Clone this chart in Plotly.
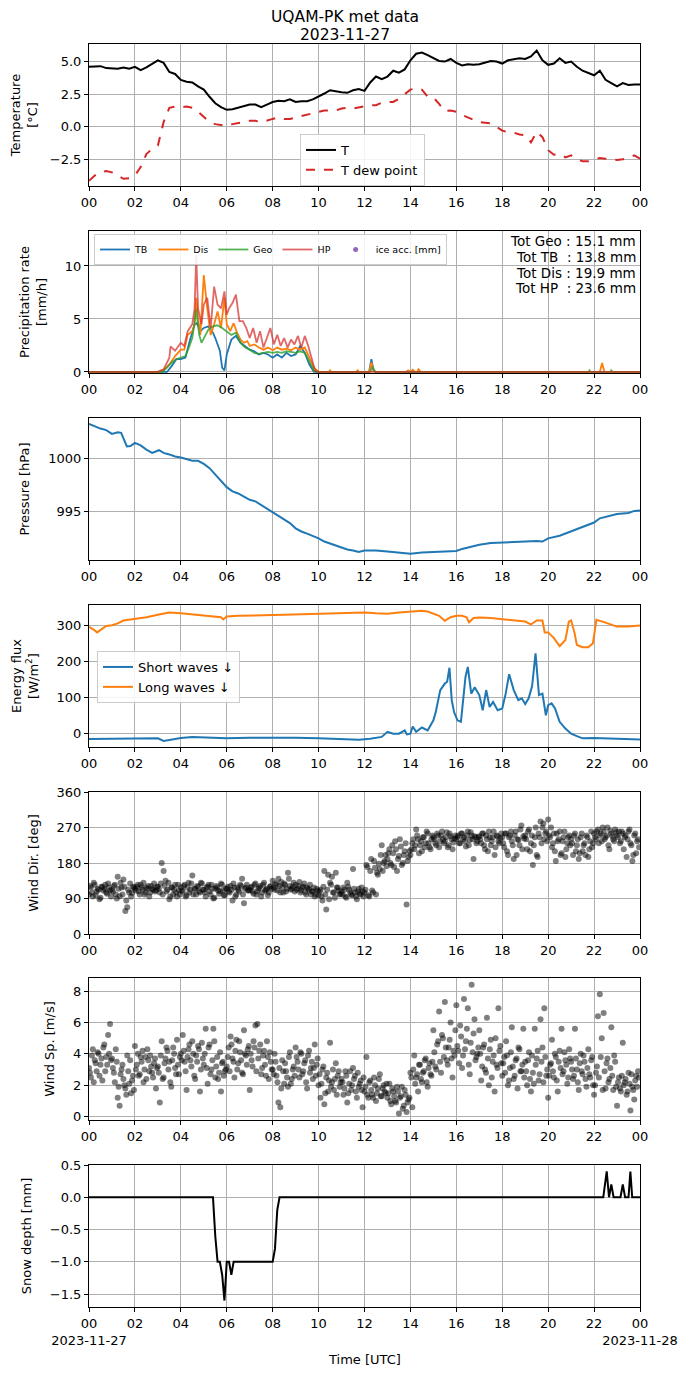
import plotly.graph_objects as go
from plotly.subplots import make_subplots

# ---------------- data : hours UTC, 2023-11-27 ----------------
# temperature / dew point, one value every 15 min (00:00 -> 24:00)
TEMP = [
    4.6, 4.65, 4.65, 4.5,   4.5, 4.45, 4.55, 4.45,   4.6, 4.35, 4.55, 4.8,
    5.1, 4.9, 4.2, 4.05,    3.6, 3.45, 3.4, 3.1,     2.85, 2.3, 1.8, 1.5,
    1.3, 1.35, 1.45, 1.55,  1.7, 1.7, 1.5, 1.7,      1.9, 2.0, 1.95, 2.1,
    1.9, 1.95, 1.95, 2.1,   2.3, 2.55, 2.8, 2.7,     2.65, 2.6, 2.8, 2.9,
    2.75, 3.4, 3.85, 3.65,  3.85, 4.3, 4.15, 4.4,    5.1, 5.6, 5.7, 5.5,
    5.25, 5.05, 5.0, 5.2,   4.9, 4.7, 4.8, 4.75,     4.8, 4.9, 5.05, 5.0,
    4.85, 5.1, 5.15, 5.25,  5.2, 5.4, 5.85, 5.1,     4.75, 4.85, 5.25, 4.9,
    5.0, 4.6, 4.3, 4.1,     3.95, 4.3, 3.6, 3.35,    3.1, 3.35, 3.2, 3.25,
    3.25,
]
DEW = [
    -4.15, -3.75, -3.5, -3.4,  -3.5, -3.75, -4.0, -3.95,  -3.75, -3.1, -2.1, -1.7,
    -1.45, 0.35, 1.45, 1.55,   1.5, 1.55, 1.45, 1.15,     0.75, 0.35, 0.2, 0.1,
    0.05, 0.2, 0.25, 0.35,     0.45, 0.45, 0.35, 0.5,     0.6, 0.7, 0.6, 0.6,
    0.7, 0.8, 0.9, 1.0,        1.15, 1.25, 1.25, 1.25,    1.4, 1.45, 1.4, 1.5,
    1.55, 1.65, 1.65, 1.85,    1.9, 1.9, 2.15, 2.5,       2.85, 2.95, 2.85, 2.3,
    2.25, 1.75, 1.2, 1.25,     1.15, 0.9, 0.7, 0.55,      0.35, 0.3, 0.25, 0.0,
    -0.3, -0.4, -0.45, -0.6,   -0.65, -1.2, -0.4, -0.8,   -1.8, -2.15, -2.1, -2.35,
    -2.2, -2.5, -2.65, -2.65,  -2.55, -2.4, -2.45, -2.5,  -2.55, -2.5, -2.4, -2.2,
    -2.45,
]
T_HOURS = [i * 0.25 for i in range(len(TEMP))]

# precipitation rate [mm/h]
TB_H = [0, 3.4, 3.6, 3.8, 4.0, 4.2, 4.4, 4.6, 4.7, 4.85, 5.0, 5.2, 5.4, 5.5, 5.7, 5.8, 5.9,
        6.0, 6.2, 6.4, 6.6, 6.8, 7.0, 7.2, 7.4, 7.6, 7.8, 8.0, 8.2, 8.4, 8.6, 8.8,
        9.0, 9.2, 9.4, 9.6, 9.8, 12.2, 12.3, 12.4, 12.5, 24]
TB = [0, 0, 0.55, 1.2, 1.2, 1.35, 3.05, 4.45, 4.6, 3.85, 4.15, 4.3, 3.7, 3.2, 2.0, 0.4, 0.15,
      1.65, 3.05, 3.4, 2.75, 2.45, 2.1, 1.95, 1.65, 1.8, 1.65, 1.35, 1.65, 1.35, 1.8, 1.5,
      1.65, 2.45, 1.8, 0.7, 0, 0, 1.2, 0.1, 0, 0]
DIS_H = [0, 3.0, 3.25, 3.5, 3.75, 4.0, 4.15, 4.3, 4.5, 4.6, 4.67, 4.75, 4.85,
         5.0, 5.15, 5.3, 5.45, 5.6, 5.75, 5.9, 6.0, 6.15, 6.3, 6.45, 6.6, 6.75, 6.9,
         7.0, 7.2, 7.4, 7.6, 7.8, 8.0, 8.2, 8.4, 8.6, 8.8, 9.0, 9.2, 9.4, 9.6, 9.8,
         10.0, 10.45, 10.5, 10.55, 11.65, 11.7, 11.75, 12.2, 12.3, 12.4, 12.5,
         13.8, 13.9, 14.0, 14.1, 14.2, 14.3, 14.35, 14.45, 14.6,
         22.25, 22.35, 22.45, 24]
DIS = [0, 0, 0.2, 0.7, 1.5, 2.1, 2.1, 3.5, 3.85, 4.5, 7.0, 5.1, 3.5,
       9.15, 6.0, 3.5, 4.5, 5.7, 4.15, 7.0, 4.5, 3.85, 4.6, 3.7, 3.05, 2.75, 2.9,
       2.45, 2.6, 2.3, 2.1, 2.3, 2.05, 2.3, 2.1, 2.2, 2.05, 2.3, 2.1, 2.3, 1.35, 0.4,
       0, 0, 0.15, 0, 0, 0.2, 0, 0, 0.9, 0.1, 0,
       0, 0.15, 0, 0.2, 0, 0, 0.25, 0, 0,
       0, 0.85, 0, 0]
GEO_H = [0, 3.2, 3.4, 3.6, 3.8, 4.0, 4.2, 4.35, 4.5, 4.67, 4.8, 4.9,
         5.0, 5.2, 5.4, 5.6, 5.8, 6.0, 6.2, 6.4, 6.6, 6.8, 7.0, 7.2, 7.4, 7.6, 7.8,
         8.0, 8.2, 8.4, 8.6, 8.8, 9.0, 9.2, 9.4, 9.6, 9.8, 10.0,
         12.25, 12.35, 12.45, 21.75, 21.8, 21.85, 22.7, 22.75, 22.8, 24]
GEO = [0, 0, 0.4, 0.9, 1.2, 1.35, 1.5, 2.3, 3.2, 5.9, 3.5, 2.75,
       3.2, 4.0, 4.3, 4.4, 4.15, 3.85, 3.5, 3.7, 2.75, 2.3, 2.1, 1.8, 1.7, 1.8, 1.9,
       1.8, 1.9, 1.8, 1.95, 1.9, 1.8, 1.95, 1.8, 1.0, 0.1, 0,
       0, 0.5, 0, 0, 0.15, 0, 0, 0.15, 0, 0]
HP_H = [0, 3.0, 3.25, 3.5, 3.55, 3.75, 4.0, 4.15, 4.3, 4.5, 4.6, 4.67, 4.75, 4.9,
        5.0, 5.15, 5.3, 5.45, 5.6, 5.75, 5.9, 6.0, 6.1, 6.25, 6.4, 6.55, 6.7, 6.85,
        7.0, 7.15, 7.3, 7.45, 7.6, 7.75, 7.9, 8.05, 8.2, 8.35, 8.5, 8.65, 8.8, 8.95,
        9.1, 9.25, 9.4, 9.55, 9.7, 9.85, 10.0, 24]
HP = [0, 0, 0.25, 1.35, 2.4, 2.0, 2.75, 2.45, 3.85, 4.5, 6.0, 11.0, 6.0, 4.5,
      6.35, 7.0, 4.15, 8.05, 6.35, 6.0, 7.6, 5.4, 6.0, 6.5, 7.3, 4.8, 4.8, 4.15,
      3.2, 4.15, 2.75, 3.85, 2.3, 3.2, 4.15, 2.6, 3.5, 2.45, 3.2, 2.3, 3.05, 2.6,
      3.4, 2.3, 3.4, 2.45, 1.2, 0.1, 0, 0]
TOTALS = ["Tot Geo : 15.1 mm", "Tot TB\u00a0\u00a0: 13.8 mm",
          "Tot Dis : 19.9 mm", "Tot HP\u00a0\u00a0: 23.6 mm"]

# pressure [hPa]
P_H = [0, 0.25, 0.5, 0.75, 1.0, 1.25, 1.4, 1.65, 1.8, 2.0, 2.25, 2.5, 2.75,
       3.05, 3.25, 3.5, 3.75, 4.0, 4.25, 4.5, 4.75, 5.0, 5.25, 5.5, 5.75,
       6.0, 6.25, 6.5, 6.75, 7.0, 7.25, 7.5, 7.75, 8.0, 8.25, 8.5, 8.75,
       9.0, 9.25, 9.5, 9.75, 10.0, 10.25, 10.5, 10.75, 11.0, 11.25, 11.5, 11.75,
       12.0, 12.5, 13.0, 13.5, 14.0, 14.5, 15.0, 15.5, 16.0, 16.25, 16.5,
       17.0, 17.5, 18.0, 18.5, 19.0, 19.5, 19.75, 20.0, 20.5, 21.0, 21.5,
       22.0, 22.25, 22.5, 23.0, 23.5, 23.75, 24.0]
PRES = [1003.3, 1003.05, 1002.85, 1002.7, 1002.35, 1002.5, 1002.45, 1001.15, 1001.2,
        1001.5, 1001.25, 1000.85, 1000.55, 1000.8, 1000.55, 1000.4, 1000.2,
        1000.1, 999.95, 999.8, 999.8, 999.5, 999.1, 998.5, 997.85,
        997.3, 996.9, 996.7, 996.4, 996.1, 995.95, 995.6, 995.3,
        994.95, 994.55, 994.2, 993.9, 993.4, 993.1, 992.9, 992.7,
        992.45, 992.15, 991.95, 991.75, 991.6, 991.4, 991.3, 991.15,
        991.3, 991.3, 991.2, 991.1, 991.0, 991.1, 991.15, 991.2, 991.25, 991.45, 991.6,
        991.85, 992.0, 992.05, 992.15, 992.2, 992.2, 992.15, 992.45, 992.7, 993.1, 993.5,
        993.95, 994.35, 994.5, 994.75, 994.85, 995.05, 995.1]

# radiation [W/m2]
LW_H = [0, 0.2, 0.35, 0.55, 0.75, 1.0, 1.25, 1.5, 2.0, 2.5, 3.0, 3.5, 4.0, 4.5,
        5.0, 5.5, 5.75, 5.85, 6.0, 6.5, 7.0, 7.5, 8.0, 8.5, 9.0, 9.5, 10.0, 10.5,
        11.0, 11.5, 12.0, 12.5, 13.0, 13.5, 14.0, 14.5, 14.75, 15.0, 15.25, 15.5, 15.75,
        16.0, 16.25, 16.45, 16.55, 16.75, 17.0, 17.5, 18.0, 18.5, 19.0, 19.25, 19.5,
        19.75, 19.85, 20.0, 20.25, 20.5, 20.75, 20.9, 21.0, 21.15, 21.25, 21.5, 21.75,
        21.95, 22.1, 22.5, 23.0, 23.5, 24.0]
LW = [295, 288, 280, 288, 298, 300, 305, 313, 317, 322, 329, 335, 333, 330,
      327, 324, 322, 316, 324, 326, 326, 326, 328, 329, 330, 331, 333, 333,
      335, 335, 335, 333, 332, 335, 338, 340, 338, 333, 326, 312, 322,
      326, 326, 322, 308, 320, 321, 320, 317, 315, 310, 302, 313,
      313, 280, 280, 264, 242, 259, 310, 313, 278, 245, 239, 239,
      250, 315, 307, 296, 296, 299]
SW_H = [0, 1, 2, 3, 3.25, 3.5, 4, 4.5, 5, 6, 7, 8, 9, 10, 11, 11.75,
        12.25, 12.75, 13.0, 13.25, 13.5, 13.75, 13.85, 14.0, 14.1, 14.25, 14.5, 14.75,
        15.0, 15.1, 15.3, 15.5, 15.6, 15.7, 15.8, 15.9, 16.05, 16.2, 16.4, 16.5, 16.65, 16.8,
        17.0, 17.15, 17.3, 17.45, 17.6, 17.8, 18.0, 18.15, 18.3, 18.5, 18.7, 18.85,
        19.0, 19.15, 19.3, 19.45, 19.6, 19.75, 19.9, 20.0, 20.15, 20.3, 20.4, 20.5, 20.75,
        21.0, 21.25, 21.5, 22, 23, 24]
SW = [-16, -16, -15, -14, -21, -18, -13, -10, -12, -14, -12, -11, -12, -14, -16, -18,
      -15, -10, 4, -1, -1, 8, -3, -1, 19, 4, 16, 8,
      36, 58, 120, 138, 143, 182, 92, 59, 36, 32, 157, 184, 110, 128,
      106, 64, 120, 73, 87, 64, 69, 110, 164, 120, 92, 97,
      81, 97, 131, 222, 106, 110, 50, 78, 83, 69, 50, 32, 13,
      -1, -8, -14, -13, -16, -17]

# wind, one row per hour; A = samples on the 5-min marks, B = samples in between
WDIR_A = [
    [100, 118, 95, 125, 108, 112, 92, 120, 115, 105, 128, 110],
    [112, 122, 100, 145, 96, 118, 138, 58, 68, 105, 95, 120],
    [115, 120, 108, 125, 112, 100, 118, 122, 105, 115, 128, 110],
    [120, 105, 180, 160, 135, 112, 88, 118, 100, 125, 95, 110],
    [118, 108, 125, 98, 130, 112, 148, 115, 100, 120, 105, 128],
    [112, 95, 120, 108, 125, 90, 115, 118, 102, 128, 110, 98],
    [115, 108, 122, 85, 118, 100, 112, 125, 140, 78, 118, 110],
    [112, 120, 102, 128, 108, 118, 95, 125, 110, 115, 105, 122],
    [135, 112, 125, 140, 105, 118, 128, 108, 155, 122, 115, 130],
    [125, 115, 132, 110, 120, 105, 118, 112, 100, 108, 95, 115],
    [98, 112, 85, 160, 62, 150, 130, 145, 105, 155, 118, 100],
    [108, 118, 95, 130, 112, 100, 165, 105, 88, 115, 100, 108],
    [105, 175, 98, 160, 110, 185, 100, 150, 165, 225, 180, 200],
    [190, 215, 175, 205, 235, 160, 198, 222, 180, 210, 75, 195],
    [200, 230, 215, 265, 240, 225, 210, 245, 230, 255, 220, 240],
    [245, 230, 255, 220, 250, 240, 235, 258, 225, 248, 215, 242],
    [240, 250, 230, 255, 245, 222, 260, 238, 250, 190, 245, 235],
    [248, 230, 255, 215, 240, 260, 225, 245, 200, 250, 235, 242],
    [245, 220, 255, 200, 250, 235, 190, 260, 240, 225, 275, 248],
    [250, 215, 265, 230, 175, 245, 200, 255, 285, 270, 240, 260],
    [290, 245, 220, 255, 185, 235, 260, 205, 245, 195, 230, 250],
    [240, 200, 255, 225, 190, 245, 210, 230, 250, 195, 235, 220],
    [255, 240, 265, 250, 235, 260, 245, 270, 215, 255, 240, 265],
    [250, 260, 235, 255, 245, 195, 260, 230, 185, 250, 205, 240],
]
WDIR_B = [
    [122, 105, 130, 98, 115, 88, 120, 110, 125, 102, 118, 95],
    [108, 125, 90, 115, 130, 100, 120, 85, 112, 128, 104, 118],
    [110, 125, 100, 118, 130, 105, 115, 95, 122, 112, 108, 120],
    [115, 128, 100, 122, 108, 130, 95, 118, 112, 105, 125, 100],
    [110, 122, 95, 118, 105, 128, 100, 115, 122, 108, 130, 112],
    [105, 118, 125, 100, 115, 92, 122, 110, 108, 125, 98, 115],
    [120, 105, 112, 128, 95, 118, 108, 122, 100, 115, 125, 110],
    [118, 108, 125, 100, 115, 122, 105, 130, 112, 98, 120, 115],
    [118, 128, 110, 122, 132, 105, 125, 115, 140, 112, 120, 108],
    [112, 122, 105, 118, 128, 100, 115, 125, 108, 118, 100, 110],
    [108, 95, 120, 100, 112, 88, 125, 105, 92, 118, 110, 102],
    [100, 112, 92, 120, 105, 98, 115, 95, 108, 102, 118, 95],
    [112, 170, 95, 190, 105, 168, 155, 178, 200, 160, 185, 172],
    [205, 180, 225, 170, 215, 190, 240, 175, 200, 230, 185, 210],
    [215, 240, 225, 250, 205, 235, 245, 220, 260, 230, 215, 250],
    [240, 225, 250, 235, 260, 230, 245, 220, 255, 240, 232, 250],
    [245, 230, 255, 240, 235, 250, 225, 258, 240, 248, 230, 245],
    [240, 255, 225, 250, 210, 245, 235, 260, 220, 248, 230, 255],
    [230, 255, 210, 245, 260, 225, 250, 200, 238, 265, 215, 242],
    [240, 260, 210, 250, 225, 270, 195, 245, 230, 280, 255, 235],
    [250, 270, 230, 210, 255, 240, 200, 235, 260, 215, 245, 225],
    [230, 250, 210, 240, 205, 255, 225, 200, 245, 215, 260, 230],
    [245, 260, 230, 255, 270, 240, 250, 225, 262, 248, 235, 258],
    [245, 230, 260, 215, 250, 240, 265, 225, 200, 255, 235, 220],
]
WSPD_A = [
    [3.1, 2.5, 4.3, 3.6, 2.9, 4.0, 3.3, 2.3, 4.6, 3.8, 5.2, 5.9],
    [3.7, 2.8, 4.3, 1.2, 0.7, 3.0, 2.4, 1.8, 3.9, 2.1, 1.5, 2.6],
    [4.5, 3.3, 2.6, 3.8, 4.2, 3.0, 2.4, 3.6, 3.9, 2.8, 3.4, 1.8],
    [3.2, 0.9, 4.8, 2.5, 3.7, 4.2, 3.5, 1.9, 4.4, 3.1, 4.9, 2.7],
    [4.0, 5.2, 3.5, 1.7, 4.3, 3.6, 4.8, 2.6, 3.9, 4.5, 1.6, 4.7],
    [3.3, 5.6, 2.1, 4.6, 3.0, 5.6, 2.5, 3.8, 2.8, 1.6, 3.5, 2.9],
    [3.2, 4.4, 5.1, 3.7, 2.5, 4.9, 3.4, 4.1, 2.8, 5.5, 3.9, 4.3],
    [1.7, 3.6, 4.8, 5.8, 5.9, 4.2, 2.7, 3.9, 3.3, 4.8, 2.4, 3.5],
    [3.0, 4.0, 2.6, 0.9, 0.6, 3.6, 2.1, 2.9, 1.9, 4.1, 2.4, 3.2],
    [4.4, 3.5, 2.5, 4.0, 2.9, 3.6, 1.8, 4.2, 3.1, 2.4, 4.6, 3.3],
    [2.0, 1.2, 3.0, 0.8, 2.5, 1.6, 4.7, 2.2, 1.7, 3.4, 2.6, 1.9],
    [2.4, 1.4, 2.9, 0.9, 2.1, 1.7, 3.1, 2.6, 1.2, 1.9, 2.3, 0.6],
    [1.6, 3.8, 1.2, 2.3, 1.4, 2.5, 1.0, 1.8, 2.7, 1.3, 2.0, 1.5],
    [1.2, 2.1, 0.8, 1.6, 1.0, 1.9, 0.2, 1.3, 0.5, 1.7, 0.3, 1.1],
    [2.8, 0.6, 3.9, 2.5, 1.6, 3.3, 2.2, 2.9, 3.7, 1.9, 3.4, 2.6],
    [5.5, 3.2, 4.6, 6.7, 2.8, 5.0, 7.3, 3.6, 4.4, 6.0, 2.5, 3.9],
    [7.1, 4.2, 5.8, 3.1, 7.5, 4.8, 6.9, 2.7, 8.4, 5.3, 3.6, 4.0],
    [5.5, 2.3, 4.4, 3.0, 6.3, 2.0, 4.9, 3.5, 1.6, 3.3, 6.9, 4.5],
    [2.6, 3.8, 4.8, 2.0, 3.1, 5.7, 2.4, 3.6, 1.8, 4.3, 2.9, 5.6],
    [3.5, 2.0, 4.1, 1.6, 2.8, 5.6, 3.7, 2.3, 6.2, 4.4, 6.9, 2.6],
    [1.2, 3.3, 4.9, 2.5, 3.8, 1.6, 4.2, 5.6, 2.9, 3.6, 2.1, 4.3],
    [3.5, 2.4, 5.6, 3.0, 1.7, 4.0, 2.7, 3.5, 1.9, 4.3, 2.5, 3.8],
    [1.4, 2.8, 6.4, 7.8, 5.0, 6.6, 1.8, 3.7, 2.4, 5.7, 1.7, 3.5],
    [0.7, 2.5, 1.6, 4.7, 2.2, 1.4, 2.8, 0.4, 1.9, 1.1, 2.6, 2.9],
]
WSPD_B = [
    [2.8, 3.9, 2.2, 3.4, 4.1, 2.6, 3.7, 4.4, 2.9, 3.3, 4.0, 3.6],
    [3.1, 2.2, 3.5, 1.9, 2.7, 3.3, 2.0, 1.4, 2.9, 3.6, 2.3, 1.7],
    [3.0, 4.0, 2.7, 3.5, 2.2, 3.8, 4.3, 2.9, 3.2, 2.5, 3.7, 3.1],
    [2.8, 3.9, 2.4, 3.4, 4.4, 3.0, 2.2, 3.6, 4.0, 2.7, 3.3, 3.8],
    [3.6, 4.2, 2.9, 3.8, 4.6, 3.2, 4.0, 2.4, 3.5, 4.3, 3.0, 3.7],
    [4.0, 3.1, 4.4, 2.7, 3.6, 4.8, 3.2, 2.4, 4.1, 3.4, 2.6, 3.0],
    [3.8, 2.9, 4.6, 3.5, 4.2, 3.0, 4.8, 3.6, 2.7, 4.0, 3.3, 4.5],
    [4.0, 3.2, 4.4, 2.9, 3.7, 4.6, 3.1, 4.2, 2.6, 3.8, 4.1, 3.0],
    [2.7, 3.5, 2.2, 3.1, 1.8, 2.9, 3.4, 2.5, 3.8, 2.1, 3.0, 2.6],
    [3.8, 3.0, 4.1, 2.7, 3.4, 2.2, 3.9, 2.8, 3.5, 3.1, 2.6, 3.7],
    [2.7, 2.1, 3.2, 1.5, 2.8, 2.3, 1.9, 3.0, 2.4, 1.4, 2.9, 2.2],
    [2.2, 1.8, 2.6, 1.5, 2.9, 2.0, 2.4, 1.6, 2.8, 2.1, 1.7, 2.5],
    [1.9, 1.4, 2.2, 1.7, 1.2, 2.0, 1.5, 2.4, 1.3, 1.8, 1.6, 2.1],
    [1.5, 1.0, 1.8, 1.3, 0.9, 1.6, 1.2, 1.9, 0.7, 1.4, 0.9, 1.2],
    [2.5, 3.0, 2.1, 2.7, 3.3, 2.4, 2.8, 3.6, 2.2, 3.1, 2.7, 3.5],
    [4.1, 3.0, 4.8, 3.5, 5.2, 3.8, 4.4, 3.3, 4.9, 3.7, 4.2, 5.5],
    [4.5, 3.4, 5.1, 3.9, 4.3, 5.6, 3.3, 4.7, 4.1, 6.2, 3.8, 4.4],
    [4.0, 3.2, 4.6, 2.8, 3.7, 4.3, 2.5, 3.9, 5.0, 3.1, 4.2, 3.4],
    [3.4, 2.8, 3.9, 2.3, 4.1, 3.2, 2.6, 3.7, 4.4, 2.9, 3.3, 2.5],
    [2.9, 3.6, 2.4, 3.9, 2.1, 3.3, 4.2, 2.7, 3.5, 2.2, 3.8, 3.0],
    [2.6, 3.4, 2.9, 4.0, 2.3, 3.5, 3.1, 2.7, 4.1, 3.3, 2.5, 3.7],
    [3.0, 2.6, 3.7, 2.2, 3.4, 2.9, 3.9, 2.4, 3.1, 2.7, 3.6, 2.0],
    [2.0, 3.2, 2.5, 3.8, 1.7, 2.9, 3.4, 2.2, 3.1, 2.6, 3.9, 1.9],
    [2.2, 1.8, 2.6, 2.0, 2.4, 1.6, 2.1, 2.7, 1.7, 2.3, 1.9, 2.5],
]

# snow depth [mm]
SNOW_H = [0, 5.4, 5.5, 5.6, 5.7, 5.8, 5.9, 6.0, 6.1, 6.2, 6.3, 8.0, 8.1, 8.2, 8.3,
          22.4, 22.55, 22.65, 22.75, 22.85, 23.15, 23.25, 23.35, 23.5, 23.58, 23.66, 24]
SNOW = [0, 0, -0.6, -1.0, -1.0, -1.2, -1.6, -1.0, -1.0, -1.2, -1.0, -1.0, -0.8, -0.2, 0,
        0, 0.4, 0, 0.2, 0, 0, 0.2, 0, 0, 0.4, 0, 0]

HOUR_TICKS = list(range(0, 25, 2))
HOUR_LABELS = ["%02d" % (h % 24) for h in HOUR_TICKS]


def flatten_hourly(rows_a, rows_b):
    xs, ys = [], []
    for h, (ra, rb) in enumerate(zip(rows_a, rows_b)):
        for i, v in enumerate(ra):
            xs.append(h + i / len(ra))
            ys.append(v)
        for i, v in enumerate(rb):
            xs.append(h + (i + 0.5) / len(rb))
            ys.append(v)
    return xs, ys


# the page has an 8 px body margin, so the figure is drawn 8 px in from the corner
OFF = 8
W = 690 - 2 * OFF
H = 1377 - 2 * OFF


def px(x):
    return (x - OFF) / W


def py(y):
    return 1 - (y - OFF) / H


# panel pixel extents in the reference picture (top, bottom)
PANELS = [(44, 186), (231, 373), (418, 560), (605, 747), (792, 934), (978, 1120), (1165, 1307)]

fig = make_subplots(rows=7, cols=1)

BLUE, ORANGE, GREEN, RED, PURPLE = "#1f77b4", "#ff7f0e", "#2ca02c", "#d62728", "#9467bd"

# 1 temperature
fig.add_trace(go.Scatter(x=T_HOURS, y=TEMP, mode="lines", name="T",
                         line=dict(color="black", width=2), legend="legend"), row=1, col=1)
fig.add_trace(go.Scatter(x=T_HOURS, y=DEW, mode="lines", name="T dew point",
                         line=dict(color=RED, width=2, dash="dash"), legend="legend"), row=1, col=1)

# 2 precipitation
for xs, ys, nm, col, op in [(TB_H, TB, "TB", BLUE, 1.0), (DIS_H, DIS, "Dis", ORANGE, 1.0),
                            (GEO_H, GEO, "Geo", GREEN, 0.8), (HP_H, HP, "HP", RED, 0.7)]:
    fig.add_trace(go.Scatter(x=xs, y=ys, mode="lines", name=nm, opacity=op,
                             line=dict(color=col, width=1.8), legend="legend2"), row=2, col=1)
fig.add_trace(go.Scatter(x=[None], y=[None], mode="markers", name="ice acc. [mm]",
                         marker=dict(color=PURPLE, size=5), legend="legend2"), row=2, col=1)

# 3 pressure
fig.add_trace(go.Scatter(x=P_H, y=PRES, mode="lines", showlegend=False,
                         line=dict(color=BLUE, width=2)), row=3, col=1)

# 4 radiation
fig.add_trace(go.Scatter(x=SW_H, y=SW, mode="lines", name="Short waves \u2193",
                         line=dict(color=BLUE, width=2), legend="legend3"), row=4, col=1)
fig.add_trace(go.Scatter(x=LW_H, y=LW, mode="lines", name="Long waves \u2193",
                         line=dict(color=ORANGE, width=2), legend="legend3"), row=4, col=1)

# 5-6 wind
wd_x, wd_y = flatten_hourly(WDIR_A, WDIR_B)
ws_x, ws_y = flatten_hourly(WSPD_A, WSPD_B)
for xs, ys, r in [(wd_x, wd_y, 5), (ws_x, ws_y, 6)]:
    fig.add_trace(go.Scatter(x=xs, y=ys, mode="markers", showlegend=False,
                             marker=dict(color="rgba(0,0,0,0.5)", size=6,
                                         line=dict(width=0))), row=r, col=1)

# 7 snow depth
fig.add_trace(go.Scatter(x=SNOW_H, y=SNOW, mode="lines", showlegend=False,
                         line=dict(color="black", width=2)), row=7, col=1)

FONT = "DejaVu Sans, Arial, sans-serif"
axis_common = dict(showgrid=True, gridcolor="#b0b0b0", gridwidth=0.8, zeroline=False,
                   showline=True, linecolor="black", linewidth=1, mirror=True,
                   ticks="outside", ticklen=4, tickcolor="black",
                   tickfont=dict(size=13, color="black"), automargin=False)

YSPEC = [
    dict(range=[-4.55, 6.35], tickvals=[-2.5, 0, 2.5, 5], tickformat=".1f",
         title="Temperature<br>[°C]"),
    dict(range=[-0.1, 13.3], tickvals=[0, 5, 10], title="Precipitation rate<br>[mm/h]"),
    dict(range=[990.4, 1003.85], tickvals=[995, 1000], title="Pressure [hPa]"),
    dict(range=[-38, 356], tickvals=[0, 100, 200, 300], title="Energy flux<br>[W/m<sup>2</sup>]"),
    dict(range=[0, 360], tickvals=[0, 90, 180, 270, 360], title="Wind Dir. [deg]"),
    dict(range=[-0.21, 8.83], tickvals=[0, 2, 4, 6, 8], title="Wind Sp. [m/s]"),
    dict(range=[-1.7, 0.5], tickvals=[-1.5, -1.0, -0.5, 0, 0.5], tickformat=".1f",
         title="Snow depth [mm]"),
]

xdom = [px(89), px(640)]
for i, ((top, bot), ys) in enumerate(zip(PANELS, YSPEC), start=1):
    sfx = "" if i == 1 else str(i)
    ticktext = list(HOUR_LABELS)
    if i == 7:
        ticktext[0] = "00<br>2023-11-27"
        ticktext[-1] = "00<br>2023-11-28"
    fig.update_layout({
        "xaxis" + sfx: dict(axis_common, domain=xdom, range=[0, 24], tickvals=HOUR_TICKS,
                            ticktext=ticktext, tickangle=0),
        "yaxis" + sfx: dict(axis_common, domain=[py(bot), py(top)],
                            range=ys["range"], tickvals=ys["tickvals"],
                            tickformat=ys.get("tickformat", ""),
                            title=dict(text=ys["title"], font=dict(size=13, color="black"))),
    })

legend_box = dict(bgcolor="rgba(255,255,255,0.85)", bordercolor="#cccccc", borderwidth=1,
                  xanchor="left", yanchor="top", font=dict(size=13, color="black"))

annotations = [
    dict(text="UQAM-PK met data", x=px(345), y=py(16.5), xref="paper", yref="paper",
         xanchor="center", yanchor="middle", showarrow=False, borderpad=0,
         font=dict(size=15.5)),
    dict(text="2023-11-27", x=px(345), y=py(35), xref="paper", yref="paper",
         xanchor="center", yanchor="middle", showarrow=False, borderpad=0,
         font=dict(size=15.5)),
    dict(text="Time [UTC]", x=px(364.5), y=py(1359), xref="paper", yref="paper",
         xanchor="center", yanchor="middle", showarrow=False, font=dict(size=13)),
]
for k, line in enumerate(TOTALS):
    annotations.append(dict(text=line, x=px(637), y=py(241 + 15.8 * k),
                            xref="paper", yref="paper", xanchor="right", yanchor="middle",
                            showarrow=False, borderpad=0, font=dict(size=13.5)))

fig.update_layout(
    width=W, height=H,
    margin=dict(l=0, r=0, t=0, b=0),
    paper_bgcolor="white", plot_bgcolor="white",
    font=dict(family=FONT, color="black"),
    legend=dict(legend_box, x=px(300), y=py(134), tracegroupgap=0),
    legend2=dict(legend_box, x=px(94), y=py(234), orientation="h",
                 font=dict(size=9.5, color="black")),
    legend3=dict(legend_box, x=px(97), y=py(651)),
    annotations=annotations,
)

fig.write_html("out.html")
